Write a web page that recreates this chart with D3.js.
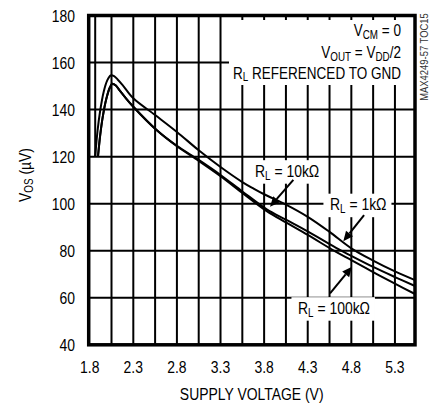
<!DOCTYPE html>
<html><head><meta charset="utf-8">
<script src="https://cdn.jsdelivr.net/npm/d3@7"></script>
<style>
html,body{margin:0;padding:0;background:#fff;}
text{font-family:"Liberation Sans Narrow","Arial Narrow","Liberation Sans",Arial,sans-serif;fill:#000;}
</style></head>
<body><svg id="c" width="443" height="407"></svg>
<script>
// ---- data ----
const xTickValues = [1.8, 2.3, 2.8, 3.3, 3.8, 4.3, 4.8, 5.3];
const xTickLabels = ["1.8", "2.3", "2.8", "3.3", "3.8", "4.3", "4.8", "5.3"];
const xGridValues = [2.05, 2.3, 2.55, 2.8, 3.05, 3.3, 3.55, 3.8, 4.05, 4.3, 4.55, 4.8, 5.05, 5.3];
const yTickValues = [40, 60, 80, 100, 120, 140, 160, 180];

const overRangeV = [1.863, 1.863];
const overRangeVos = [180, 120];

const v1k = [1.863, 1.89, 1.92, 1.96, 2.00, 2.04, 2.08, 2.12, 2.18, 2.30, 2.55, 2.80, 3.05, 3.30, 3.55, 3.68, 3.80, 4.05, 4.30, 4.55, 4.80, 5.05, 5.30, 5.53];
const vos1k = [120, 131, 139.5, 147.5, 152.3, 154.5, 154.2, 152.8, 150.3, 144.8, 137.7, 130.5, 122.7, 115.6, 109.2, 106.4, 104.0, 99.6, 94.4, 88.0, 81.0, 75.8, 71.2, 67.5];

const v10k = [1.895, 1.92, 1.95, 1.99, 2.03, 2.06, 2.10, 2.15, 2.20, 2.30, 2.57, 2.80, 3.05, 3.30, 3.55, 3.83, 4.05, 4.30, 4.62, 4.80, 5.05, 5.30, 5.53];
const vos10k = [120, 129, 137, 144.5, 149.3, 151, 150.2, 147.8, 145.5, 141.2, 131.2, 124.6, 118.6, 112.2, 105.2, 97.6, 93.2, 88.2, 81.3, 77.8, 73.1, 68.8, 65.0];
const v100k = v10k;
const vos100k = [120, 129, 137, 144.5, 149.3, 151, 150.2, 147.8, 145.5, 141.2, 131.2, 124.4, 118.2, 111.7, 104.6, 96.8, 92.0, 86.7, 79.6, 76.0, 70.9, 66.0, 61.6];

// annotation arrows in data units: [fromV, fromVos, tipV, tipVos]
const arrow10k = [4.135, 110.1, 3.868, 98.7];
const arrow1k = [4.946, 95.1, 4.708, 84.0];
const arrow100k = [4.556, 61.9, 4.808, 73.2];

// ---- chart ----
const svg = d3.select("#c");
const x = d3.scaleLinear().domain([1.8, 5.53]).range([89.7, 415]);
const y = d3.scaleLinear().domain([40, 180]).range([344.8, 15.5]);

const FS = 17;
const SX = 0.82; // condense (narrow face not installed)
const place = (px, py) => `translate(${px},${py}) scale(${SX},1)`;

// grid
svg.append("g").selectAll("line").data(xGridValues).join("line")
  .attr("x1", d => x(d)).attr("x2", d => x(d))
  .attr("y1", y(180)).attr("y2", y(40))
  .attr("stroke", "#000").attr("stroke-width", 2);
svg.append("g").selectAll("line").data(yTickValues.slice(1, -1)).join("line")
  .attr("x1", x(1.8)).attr("x2", x(5.53))
  .attr("y1", d => y(d)).attr("y2", d => y(d))
  .attr("stroke", "#000").attr("stroke-width", 2);

// curves
const lineLin = d3.line().x(d => x(d[0])).y(d => y(d[1]));
const lineSmooth = d3.line().x(d => x(d[0])).y(d => y(d[1])).curve(d3.curveCatmullRom.alpha(0.5));
const zip = (a, b) => a.map((v, i) => [v, b[i]]);
const cg = svg.append("g").attr("fill", "none").attr("stroke", "#000").attr("stroke-width", 2).attr("stroke-linejoin", "round");
cg.append("path").attr("d", lineLin(zip(overRangeV, overRangeVos)));
cg.append("path").attr("d", lineSmooth(zip(v1k, vos1k)));
cg.append("path").attr("d", lineSmooth(zip(v10k, vos10k)));
cg.append("path").attr("d", lineSmooth(zip(v100k, vos100k)));

// helper: rich label (with subscripts) at local 0,ty
function label(g, parts, ty, anchor, fs, sdy) {
  const d = sdy || 3;
  const t = g.append("text").attr("x", 0).attr("y", ty).attr("font-size", fs || FS).attr("text-anchor", anchor || "start");
  parts.forEach(p => {
    const ts = t.append("tspan").text(p.t);
    if (p.sub) ts.attr("font-size", 12).attr("dy", d);
    else if (p.after) ts.attr("dy", -d);
  });
  return t;
}

// top-right note (white box then text)
const note = svg.append("g");
const noteBox = note.append("rect").attr("fill", "#fff");
const noteText = note.append("g").attr("transform", place(401, 0));
label(noteText, [{t: "V"}, {t: "CM", sub: true}, {t: " = 0", after: true}], 36.5, "end", 16.5, 2.5);
label(noteText, [{t: "V"}, {t: "OUT", sub: true}, {t: " = V", after: true}, {t: "DD", sub: true}, {t: "/2", after: true}], 58.5, "end", 16.5, 2.5);
label(noteText, [{t: "R"}, {t: "L", sub: true}, {t: " REFERENCED TO GND", after: true}], 79, "end", 16.5, 2.5);
{
  const b = noteText.node().getBBox();
  const left = 401 + b.x * SX - 4;
  noteBox.attr("x", left).attr("y", 20).attr("width", x(5.53) - left).attr("height", 65);
}

// series labels
function seriesLabel(parts, tx, ty) {
  const g = svg.append("g").attr("transform", place(tx, ty));
  const r = g.append("rect").attr("fill", "#fff");
  const t = label(g, parts, 0);
  const b = t.node().getBBox();
  r.attr("x", b.x - 8).attr("y", b.y - 1).attr("width", b.width + 14).attr("height", b.height + 3);
}
seriesLabel([{t: "R"}, {t: "L", sub: true}, {t: " = 10k\u03A9", after: true}], 255, 176.5);
seriesLabel([{t: "R"}, {t: "L", sub: true}, {t: " = 1k\u03A9", after: true}], 330, 210);
seriesLabel([{t: "R"}, {t: "L", sub: true}, {t: " = 100k\u03A9", after: true}], 298, 313.5);

// arrows
function arrow(a) {
  const x1 = x(a[0]), y1 = y(a[1]), x2 = x(a[2]), y2 = y(a[3]);
  const ang = Math.atan2(y2 - y1, x2 - x1);
  const L = 10, W = 4.5;
  const bx = x2 - L * Math.cos(ang), by = y2 - L * Math.sin(ang);
  svg.append("line").attr("x1", x1).attr("y1", y1).attr("x2", bx).attr("y2", by)
    .attr("stroke", "#000").attr("stroke-width", 2);
  const px = -Math.sin(ang) * W, py = Math.cos(ang) * W;
  svg.append("path").attr("d", `M${x2},${y2}L${bx + px},${by + py}L${bx - px},${by - py}Z`).attr("fill", "#000");
}
arrow(arrow10k); arrow(arrow1k); arrow(arrow100k);

// frame
svg.append("rect").attr("x", x(1.8) - 1).attr("y", y(180)).attr("width", x(5.53) - x(1.8) + 1).attr("height", y(40) - y(180))
  .attr("fill", "none").attr("stroke", "#000").attr("stroke-width", 3.5);

// tick labels
svg.append("g").selectAll("text").data(yTickValues).join("text")
  .attr("transform", d => place(75, y(d) + 6)).attr("text-anchor", "end").attr("font-size", FS).text(d => d);
svg.append("g").selectAll("text").data(xTickValues).join("text")
  .attr("transform", d => place(x(d), 373)).attr("text-anchor", "middle").attr("font-size", FS)
  .text((d, i) => xTickLabels[i]);

// axis titles
svg.append("text").attr("transform", place(251.7, 400)).attr("text-anchor", "middle").attr("font-size", FS).text("SUPPLY VOLTAGE (V)");
const yt = svg.append("text").attr("transform", `translate(31,175) rotate(-90) scale(${SX},1)`).attr("text-anchor", "middle").attr("font-size", FS);
yt.append("tspan").text("V");
yt.append("tspan").text("OS").attr("font-size", 12).attr("dy", 2);
yt.append("tspan").text(" (\u00B5V)").attr("dy", -2);

// side code
svg.append("text").attr("transform", `translate(428,57) rotate(-90) scale(${SX},1)`).attr("text-anchor", "middle")
  .attr("font-size", 11.5).style("fill", "#333").text("MAX4249-57 TOC15");
</script></body></html>
